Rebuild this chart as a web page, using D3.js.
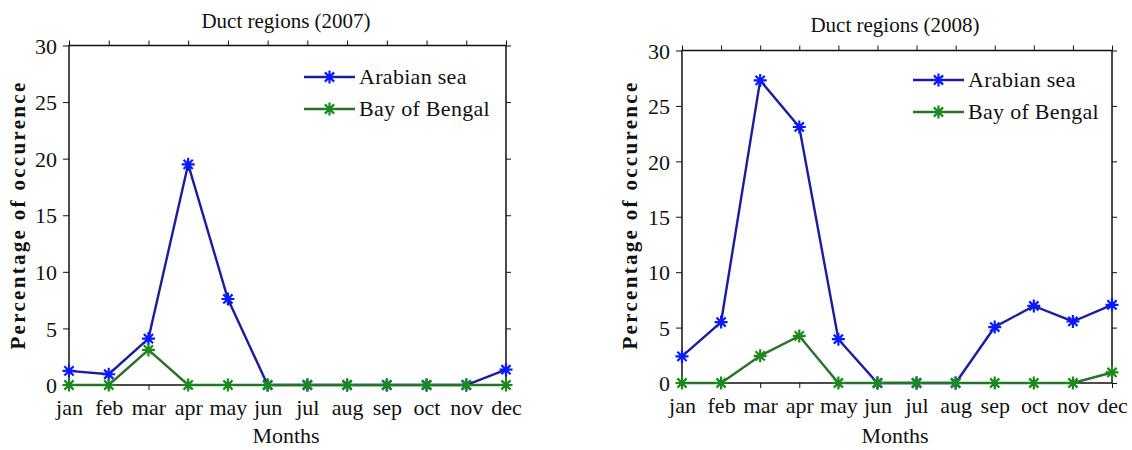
<!DOCTYPE html>
<html><head><meta charset="utf-8">
<script src="https://cdn.jsdelivr.net/npm/d3@7"></script>
<style>body{margin:0;background:#fff}svg{display:block}text{font-family:"Liberation Serif","Times New Roman",serif;fill:#111}</style>
</head><body>
<svg id="c" width="1132" height="450"></svg>
<script>
const months = ["jan","feb","mar","apr","may","jun","jul","aug","sep","oct","nov","dec"];
const yTicks = [0,5,10,15,20,25,30];
const seriesNames = ["Arabian sea","Bay of Bengal"];
const arabian2007 = [1.25,0.95,4.1,19.5,7.6,0,0,0,0,0,0,1.35];
const bengal2007  = [0,0,3.1,0,0,0,0,0,0,0,0,0];
const arabian2008 = [2.4,5.5,27.3,23.1,3.95,0,0,0,5.05,6.95,5.55,7.05];
const bengal2008  = [0,0,2.45,4.25,0,0,0,0,0,0,0,0.95];
const titles = ["Duct regions (2007)","Duct regions (2008)"];
const colors = ["#1c1ca0","#2a722a"];
const markerColors = ["#0a1aff","#1a8a1a"];

const svg = d3.select("#c");
const star = "M-6.5,0H6.5M0,-6.5V6.5M-4.6,-4.6L4.6,4.6M-4.6,4.6L4.6,-4.6";

function panel(cfg){
  const g = svg.append("g");
  const x = d3.scalePoint().domain(months).range([cfg.x0,cfg.x1]);
  const y = d3.scaleLinear().domain([0,30]).range([cfg.y0,cfg.y1]);
  g.append("path").attr("d",`M${cfg.x0},${cfg.y0}V${cfg.y1}H${cfg.x1}V${cfg.y0}Z`)
    .attr("fill","none").attr("stroke","#111").attr("stroke-width",1.5);
  const ax = (a)=>a.tickSizeOuter(0);
  const yl = g.append("g").attr("transform",`translate(${cfg.x0},0)`)
    .call(ax(d3.axisLeft(y).tickValues(yTicks).tickSize(6).tickPadding(6)));
  yl.select(".domain").remove();
  yl.selectAll("text").style("font-size","22px").attr("dy","0.35em");
  const yr = g.append("g").attr("transform",`translate(${cfg.x1},0)`)
    .call(ax(d3.axisRight(y).tickValues(yTicks).tickSize(5)).tickFormat(""));
  yr.select(".domain").remove();
  const xt = g.append("g").attr("transform",`translate(0,${cfg.y1})`)
    .call(ax(d3.axisTop(x).tickSize(5)).tickFormat(""));
  xt.select(".domain").remove();
  const xb = g.append("g").attr("transform",`translate(0,${cfg.y0})`)
    .call(ax(d3.axisBottom(x).tickSize(5).tickPadding(9)));
  xb.select(".domain").remove();
  xb.selectAll("text").style("font-size","22px");
  g.selectAll(".tick line").attr("stroke","#111");
  g.selectAll(".tick text").attr("fill","#111");

  const line = d3.line().x((d,i)=>x(months[i])).y(d=>y(d));
  [cfg.a,cfg.b].forEach((vals,k)=>{
    g.append("path").attr("d",line(vals)).attr("fill","none")
      .attr("stroke",colors[k]).attr("stroke-width",2.4);
    g.selectAll(null).data(vals).enter().append("path")
      .attr("d",star).attr("transform",(d,i)=>`translate(${x(months[i])},${y(d)})`)
      .attr("stroke",markerColors[k]).attr("stroke-width",2.2).attr("fill","none");
  });
  seriesNames.forEach((n,k)=>{
    const ly = cfg.ly + k*32;
    g.append("line").attr("x1",cfg.lx).attr("x2",cfg.lx+51).attr("y1",ly).attr("y2",ly)
      .attr("stroke",colors[k]).attr("stroke-width",2.6);
    g.append("path").attr("d",star).attr("transform",`translate(${cfg.lx+25.5},${ly})`)
      .attr("stroke",markerColors[k]).attr("stroke-width",2.2).attr("fill","none");
    g.append("text").attr("x",cfg.lx+55).attr("y",ly).attr("dy","0.33em")
      .style("font-size","22px").style("letter-spacing","0.3px").text(n);
  });
  g.append("text").attr("x",cfg.tx).attr("y",cfg.ty).attr("text-anchor","middle")
    .attr("dy","0.33em").style("font-size","21px").text(cfg.title);
  g.append("text").attr("x",cfg.tx).attr("y",436).attr("text-anchor","middle")
    .attr("dy","0.33em").style("font-size","22px").text("Months");
  g.append("text").attr("transform",`translate(${cfg.ylx},215) rotate(-90)`)
    .attr("text-anchor","middle").attr("dy","0.35em")
    .style("font-size","21px").style("letter-spacing","2.3px").style("font-weight","bold")
    .text("Percentage of occurence");
}

panel({x0:69,x1:506,y0:385,y1:45.5,a:arabian2007,b:bengal2007,title:titles[0],
  tx:286,ty:21,lx:304,ly:77,ylx:18});
panel({x0:682,x1:1112,y0:383,y1:50.5,a:arabian2008,b:bengal2008,title:titles[1],
  tx:895,ty:25,lx:913,ly:80,ylx:630});
</script>
</body></html>
